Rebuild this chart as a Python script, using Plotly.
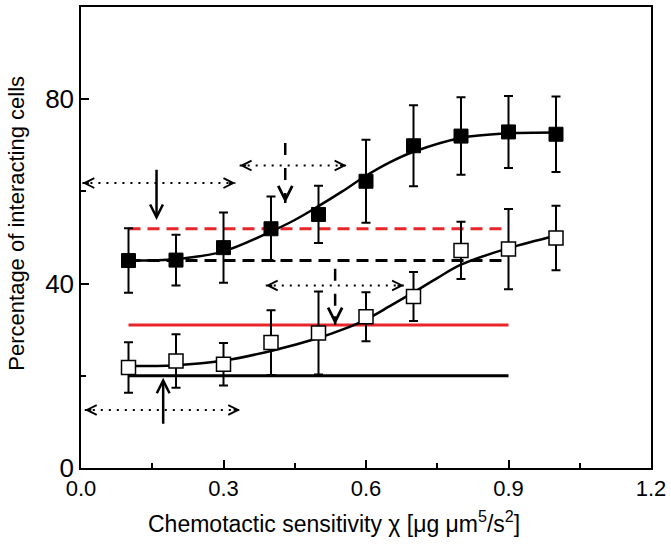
import plotly.graph_objects as go

# ---- data ----
x_pts = [0.1, 0.2, 0.3, 0.4, 0.5, 0.6, 0.7, 0.8, 0.9, 1.0]

filled_y = [45.0, 45.1, 47.8, 51.9, 55.0, 62.2, 69.9, 72.0, 72.9, 72.4]
filled_err = [7.0, 5.5, 7.6, 7.0, 6.2, 9.0, 8.8, 8.4, 7.8, 8.2]

open_y = [21.8, 23.2, 22.5, 27.2, 29.3, 32.8, 37.2, 47.2, 47.5, 49.9]
open_err = [5.5, 5.8, 4.6, 7.0, 9.0, 5.3, 5.3, 6.2, 8.7, 7.0]

fit_filled_x = [0.1, 0.2, 0.3, 0.4, 0.45, 0.5, 0.55, 0.6, 0.65, 0.7, 0.8, 0.9, 1.0]
fit_filled_y = [45.0, 45.3, 47.0, 51.3, 53.8, 56.8, 60.0, 63.4, 66.3, 68.6, 71.6, 72.6, 72.8]

fit_open_x = [0.1, 0.2, 0.3, 0.4, 0.5, 0.55, 0.6, 0.65, 0.7, 0.75, 0.8, 0.9, 1.0]
fit_open_y = [22.1, 22.3, 23.3, 25.4, 28.2, 30.0, 32.2, 35.1, 38.1, 41.2, 44.1, 47.7, 50.4]

# reference levels: (value, x_start, x_end)
red_dash_level = [51.9, 0.1, 0.9]
black_dash_level = [45.0, 0.1, 0.9]
red_solid_level = [31.0, 0.1, 0.9]
black_solid_level = [20.0, 0.1, 0.9]

# dotted double arrows: (y, x_left, x_right)
dotted_arrows = [
    (61.8, 0.003, 0.325),
    (65.6, 0.334, 0.559),
    (39.6, 0.389, 0.68),
    (12.6, 0.008, 0.335),
]
# solid vertical arrows: (x, y_tail, y_head)
solid_arrows = [
    (0.159, 65.0, 53.8),
    (0.173, 9.3, 19.6),
]
# dashed vertical arrows: (x, y_tail, y_head)
dashed_arrows = [
    (0.43, 70.5, 57.5),
    (0.535, 43.2, 31.1),
]

x_title = "Chemotactic sensitivity χ [μg μm<sup>5</sup>/s<sup>2</sup>]"
y_title = "Percentage of interacting cells"

RED = "#e8262a"

fig = go.Figure()

# horizontal reference lines
for lvl, col, dash in [
    (black_solid_level, "black", "solid"),
    (red_solid_level, RED, "solid"),
    (black_dash_level, "black", "12px,7px"),
    (red_dash_level, RED, "12px,7px"),
]:
    fig.add_trace(go.Scatter(x=[lvl[1], lvl[2]], y=[lvl[0], lvl[0]], mode="lines",
                             line=dict(color=col, width=3, dash=dash),
                             hoverinfo="skip", showlegend=False))

# fit curves
fig.add_trace(go.Scatter(x=fit_filled_x, y=fit_filled_y, mode="lines",
                         line=dict(color="black", width=2.5, shape="spline", smoothing=1.0),
                         showlegend=False))
fig.add_trace(go.Scatter(x=fit_open_x, y=fit_open_y, mode="lines",
                         line=dict(color="black", width=2.5, shape="spline", smoothing=1.0),
                         showlegend=False))

# data with error bars
fig.add_trace(go.Scatter(x=x_pts, y=filled_y, mode="markers",
                         marker=dict(symbol="square", size=14, color="black",
                                     line=dict(color="black", width=1)),
                         error_y=dict(type="data", array=filled_err, color="black",
                                      thickness=2, width=4.5),
                         showlegend=False))
fig.add_trace(go.Scatter(x=x_pts, y=open_y, mode="markers",
                         marker=dict(symbol="square", size=14, color="white",
                                     line=dict(color="black", width=1.5)),
                         error_y=dict(type="data", array=open_err, color="black",
                                      thickness=2, width=4.5),
                         showlegend=False))

annotations = []
# dotted double arrows
for (yy, xl, xr) in dotted_arrows:
    fig.add_trace(go.Scatter(x=[xl, xr], y=[yy, yy], mode="lines",
                             line=dict(color="black", width=2, dash="2px,6px"),
                             hoverinfo="skip", showlegend=False))
    annotations.append(dict(x=xl, y=yy, xref="x", yref="y", ax=8, ay=0,
                            showarrow=True, arrowhead=5, arrowsize=1.2,
                            arrowwidth=1.6, arrowcolor="black", text=""))
    annotations.append(dict(x=xr, y=yy, xref="x", yref="y", ax=-8, ay=0,
                            showarrow=True, arrowhead=5, arrowsize=1.2,
                            arrowwidth=1.6, arrowcolor="black", text=""))

for (xx, yt, yh) in solid_arrows:
    annotations.append(dict(x=xx, y=yh, xref="x", yref="y", ax=xx, ay=yt,
                            axref="x", ayref="y", showarrow=True, arrowhead=5,
                            arrowsize=1.0, arrowwidth=2.5, arrowcolor="black", text=""))

for (xx, yt, yh) in dashed_arrows:
    fig.add_trace(go.Scatter(x=[xx, xx], y=[yt, yh], mode="lines",
                             line=dict(color="black", width=2.5, dash="12px,13px"),
                             hoverinfo="skip", showlegend=False))
    annotations.append(dict(x=xx, y=yh, xref="x", yref="y", ax=0, ay=-10,
                            showarrow=True, arrowhead=5, arrowsize=1.1,
                            arrowwidth=2.5, arrowcolor="black", text=""))

# axis titles as positioned text
annotations.append(dict(text=x_title, xref="paper", yref="paper", x=0.444, y=0,
                        yshift=-54, xanchor="center", yanchor="middle", showarrow=False,
                        font=dict(size=23)))
annotations.append(dict(text=y_title, xref="paper", yref="paper", x=0, y=0.53,
                        xshift=-64, xanchor="center", yanchor="middle", showarrow=False,
                        textangle=-90, font=dict(size=22)))

fig.update_layout(
    width=671, height=545,
    margin=dict(l=81, r=20, t=7, b=77),
    paper_bgcolor="white", plot_bgcolor="white",
    font=dict(family="Liberation Sans, Arial, sans-serif", color="black"),
    annotations=annotations,
    showlegend=False,
)
fig.update_xaxes(
    range=[0, 1.2], tick0=0, dtick=0.3, tickformat=".1f", automargin=False,
    ticks="inside", ticklen=8, tickwidth=1.5, tickcolor="black",
    minor=dict(dtick=0.15, ticks="inside", ticklen=5, tickwidth=1.5, tickcolor="black"),
    showline=True, linecolor="black", linewidth=1.5, mirror=True,
    showgrid=False, zeroline=False,
    tickfont=dict(size=22),
)
fig.update_yaxes(
    range=[0, 100], tick0=0, dtick=40, automargin=False,
    ticks="inside", ticklen=8, tickwidth=1.5, tickcolor="black",
    minor=dict(dtick=20, ticks="inside", ticklen=5, tickwidth=1.5, tickcolor="black"),
    showline=True, linecolor="black", linewidth=1.5, mirror=True,
    showgrid=False, zeroline=False,
    tickfont=dict(size=26),
)

fig.write_html("out.html", config={"displayModeBar": False},
               post_script="document.body.style.margin='0px';document.body.style.overflow='hidden';")
